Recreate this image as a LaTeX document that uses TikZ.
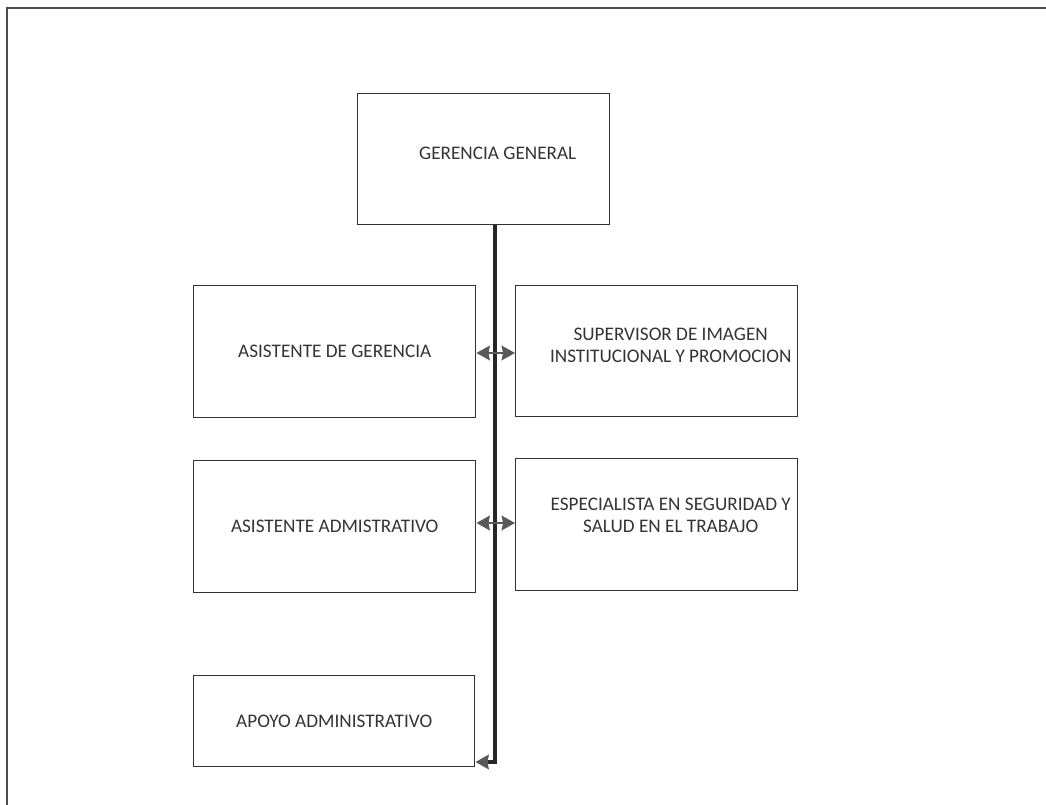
\documentclass[tikz,border=0pt]{standalone}
\usepackage{fontspec}
\setmainfont{Carlito}
\usetikzlibrary{arrows.meta}
\begin{document}
\begin{tikzpicture}[x=0.75pt,y=-0.75pt,
  orgbox/.style={draw=black!80,line width=1.1pt,rectangle,inner sep=0pt,anchor=north west},
  orgtext/.style={font=\fontsize{14.4}{16.5}\selectfont,text=black!80,align=center,inner sep=0pt},
  spine/.style={draw=black!85,line width=3pt},
  branch/.style={draw=black!65,line width=1.6pt,-{Stealth[length=10pt,width=11pt,inset=1pt]}}]
\useasboundingbox (0,0) rectangle (1046,805);
% page frame
\draw[black!70,line width=1.6pt] (7,805) -- (7,8) -- (1046,8);

% boxes
\node[orgbox,minimum width=252*0.75pt,minimum height=131*0.75pt] (gg) at (357,93) {};
\node[orgbox,minimum width=282*0.75pt,minimum height=132*0.75pt] (ag) at (193,285) {};
\node[orgbox,minimum width=282*0.75pt,minimum height=131*0.75pt] (sup) at (515,285) {};
\node[orgbox,minimum width=282*0.75pt,minimum height=132*0.75pt] (aa) at (193,460) {};
\node[orgbox,minimum width=282*0.75pt,minimum height=132*0.75pt] (esp) at (515,458) {};
\node[orgbox,minimum width=281*0.75pt,minimum height=91*0.75pt] (apo) at (193,675) {};

% labels
\node[orgtext] (tgg) at ([xshift=14*0.75pt,yshift=6*0.75pt]gg.center) {GERENCIA GENERAL};
\node[orgtext] (tag) at (ag.center) {ASISTENTE DE GERENCIA};
\node[orgtext] (tsup) at ([xshift=14*0.75pt,yshift=6*0.75pt]sup.center) {SUPERVISOR DE IMAGEN\\INSTITUCIONAL Y PROMOCION};
\node[orgtext] (taa) at (aa.center) {ASISTENTE ADMISTRATIVO};
\node[orgtext] (tesp) at ([xshift=14*0.75pt,yshift=9*0.75pt]esp.center) {ESPECIALISTA EN SEGURIDAD Y\\SALUD EN EL TRABAJO};
\node[orgtext] (tapo) at (apo.center) {APOYO ADMINISTRATIVO};

% spine and branch points
\coordinate (r1) at (495,353);
\coordinate (r2) at (495,523);
\coordinate (bend) at (495,762);
\draw[spine] (gg.south -| bend) -- (bend) -- ([xshift=10*0.75pt]apo.east |- bend);
\draw[branch] (r1) -- (ag.east |- r1);
\draw[branch] (r1) -- (sup.west |- r1);
\draw[branch] (r2) -- (aa.east |- r2);
\draw[branch] (r2) -- (esp.west |- r2);
\draw[branch,shorten <=8*0.75pt] (bend) -- (apo.east |- bend);
\end{tikzpicture}
\end{document}
